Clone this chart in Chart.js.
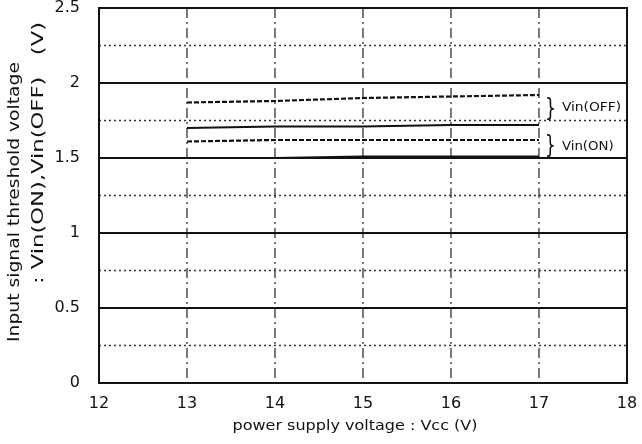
<!DOCTYPE html>
<html>
<head>
<meta charset="utf-8">
<script src="https://cdn.jsdelivr.net/npm/chart.js@4.4.0/dist/chart.umd.min.js"></script>
<style>
  body { margin: 0; background: #fff; }
  canvas { display: block; }
</style>
</head>
<body>
<canvas id="myChart" width="642" height="444"></canvas>
<script>
// power supply voltage Vcc (V)
var vcc = [13, 14, 15, 16, 17];
// Vin(OFF) upper / lower, Vin(ON) upper / lower (V)
var vinOffMax = [1.87, 1.88, 1.90, 1.91, 1.92];
var vinOffMin = [1.70, 1.71, 1.71, 1.72, 1.72];
var vinOnMax = [1.61, 1.62, 1.62, 1.62, 1.62];
var vinOnMin = [1.50, 1.50, 1.51, 1.51, 1.51];
var xTicks = [12, 13, 14, 15, 16, 17, 18];
var yTicks = [0, 0.5, 1, 1.5, 2, 2.5];
var yMinor = [0.25, 0.75, 1.25, 1.75, 2.25];
var xTitle = 'power supply voltage : Vcc (V)';
var yTitle = ['Input signal threshold voltage', ': Vin(ON),Vin(OFF)   (V)'];
// group labels: text, x, y, brace top, brace bottom
var groups = [
    ['Vin(OFF)', 17.26, 1.833, 1.90, 1.75],
    ['Vin(ON)', 17.26, 1.573, 1.65, 1.505]
];

function pts(ys) {
    var out = [];
    for (let i = 0; i < vcc.length; i++) out.push({ x: vcc[i], y: ys[i] });
    return out;
}

// text drawn rotated / stretched to a given length (the scanned font is wide)
function drawText(c, txt, x, y, rot, len) {
    c.save();
    c.translate(x, y);
    c.rotate(rot);
    var w = c.measureText(txt).width;
    c.scale(len / w, 1);
    c.fillText(txt, 0, 0);
    c.restore();
}

// grid, frame, titles and group labels
var paperPlugin = {
    id: 'paper',
    beforeDatasetsDraw: function (chart) {
        var c = chart.ctx, a = chart.chartArea;
        var xs = chart.scales.x, ys = chart.scales.y;
        c.save();
        // minor dotted horizontals
        c.strokeStyle = '#333';
        c.lineWidth = 1.3;
        c.setLineDash([2, 3]);
        yMinor.forEach(function (v) {
            var p = ys.getPixelForValue(v);
            c.beginPath(); c.moveTo(a.left, p); c.lineTo(a.right, p); c.stroke();
        });
        // vertical dash-dot lines
        c.strokeStyle = '#333';
        c.lineWidth = 1.3;
        c.setLineDash([10, 4, 2, 4]);
        xTicks.slice(1, -1).forEach(function (v) {
            var p = xs.getPixelForValue(v);
            c.beginPath(); c.moveTo(p, a.top); c.lineTo(p, a.bottom); c.stroke();
        });
        // major solid horizontals
        c.setLineDash([]);
        c.strokeStyle = '#111';
        c.lineWidth = 2;
        yTicks.forEach(function (v) {
            var p = ys.getPixelForValue(v);
            c.beginPath(); c.moveTo(a.left, p); c.lineTo(a.right, p); c.stroke();
        });
        // frame
        c.strokeRect(a.left, a.top, a.right - a.left, a.bottom - a.top);
        c.restore();
    },
    afterDraw: function (chart) {
        var c = chart.ctx;
        var xs = chart.scales.x, ys = chart.scales.y;
        c.save();
        c.fillStyle = '#111';
        // group labels
        groups.forEach(function (g) {
            var bx = xs.getPixelForValue(17.13);
            var t = ys.getPixelForValue(g[3]), b = ys.getPixelForValue(g[4]);
            var h = b - t;
            c.font = (h * 1.1) + 'px "DejaVu Sans"';
            c.textAlign = 'center';
            c.textBaseline = 'middle';
            c.save();
            c.translate(bx, (t + b) / 2);
            c.scale(0.7, 1);
            c.fillText('}', 0, 0);
            c.restore();
            c.font = '13px "DejaVu Sans"';
            c.textAlign = 'left';
            drawText(c, g[0], xs.getPixelForValue(g[1]), ys.getPixelForValue(g[2]), 0, g[0].length * 7.4);
        });
        // axis titles
        c.font = '14px "DejaVu Sans"';
        c.textAlign = 'center';
        c.textBaseline = 'middle';
        drawText(c, xTitle, 355, 426, 0, 245);
        c.font = '15px "DejaVu Sans"';
        drawText(c, yTitle[0], 15, 202, -Math.PI / 2, 280);
        drawText(c, yTitle[1], 39, 153, -Math.PI / 2, 262);
        c.restore();
    }
};

function noPad(s) {
    s.paddingTop = 0; s.paddingBottom = 0; s.paddingLeft = 0; s.paddingRight = 0;
}

var ctx = document.getElementById('myChart');
var chart = new Chart(ctx, {
    type: 'scatter',
    data: {
        datasets: [
            { label: 'Vin(OFF) max', data: pts(vinOffMax), borderDash: [5, 2] },
            { label: 'Vin(OFF) min', data: pts(vinOffMin) },
            { label: 'Vin(ON) max', data: pts(vinOnMax), borderDash: [5, 2] },
            { label: 'Vin(ON) min', data: pts(vinOnMin) }
        ].map(function (d) {
            d.showLine = true;
            d.fill = false;
            d.borderColor = '#111';
            d.borderWidth = 2.2;
            d.pointRadius = 0;
            d.tension = 0;
            return d;
        })
    },
    options: {
        responsive: false,
        animation: false,
        layout: { padding: { left: 0, right: 15, top: 8, bottom: 0 } },
        scales: {
            x: {
                type: 'linear',
                min: 12,
                max: 18,
                afterFit: function (s) { s.height = 61; noPad(s); },
                afterBuildTicks: function (s) { s.ticks = xTicks.map(function (v) { return { value: v }; }); },
                grid: { display: false, drawTicks: false },
                border: { display: false },
                ticks: {
                    color: '#111', padding: 11, font: { family: 'DejaVu Sans', size: 16 },
                    callback: function (v) { return String(v); }
                }
            },
            y: {
                min: 0,
                max: 2.5,
                afterFit: function (s) { s.width = 99; noPad(s); },
                afterBuildTicks: function (s) { s.ticks = yTicks.map(function (v) { return { value: v }; }); },
                grid: { display: false, drawTicks: false },
                border: { display: false },
                ticks: {
                    color: '#111', padding: 19, font: { family: 'DejaVu Sans', size: 16 },
                    callback: function (v) { return String(v); }
                }
            }
        },
        plugins: {
            legend: { display: false },
            tooltip: { enabled: false }
        }
    },
    plugins: [paperPlugin]
});
</script>
</body>
</html>
